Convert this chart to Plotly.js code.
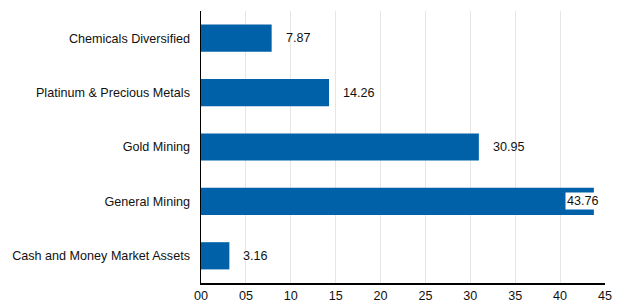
<!DOCTYPE html>
<html><head><meta charset="utf-8">
<script src="https://cdn.plot.ly/plotly-3.0.1.min.js"></script>
<style>html,body{margin:0;padding:0;background:#fff;}#chart{width:618px;height:303px;}</style>
</head><body><div id="chart"></div>
<script>
const categories = ["Chemicals Diversified","Platinum & Precious Metals","Gold Mining","General Mining","Cash and Money Market Assets"];
const values = [7.87, 14.26, 30.95, 43.76, 3.16];
const labels = ["7.87","14.26","30.95","43.76","3.16"];
const tickVals = [0,5,10,15,20,25,30,35,40,45];
const tickText = ["00","05","10","15","20","25","30","35","40","45"];

const FS = 12.6;
const annotations = categories.map((c,i)=>{
  const inside = values[i] > 40;
  return {
    x: values[i], y: c, xref:'x', yref:'y', text: labels[i], showarrow:false,
    xanchor: inside ? 'right' : 'left', xshift: inside ? 7 : 12,
    bgcolor: inside ? '#ffffff' : 'rgba(0,0,0,0)', borderpad: 1,
    font:{family:'Liberation Sans, Arial, sans-serif', size:FS, color:'#111'}
  };
});

Plotly.newPlot('chart', [{
  type:'bar', orientation:'h', x: values, y: categories,
  marker:{color:'#0060a8'}, hoverinfo:'none'
}], {
  width:618, height:303,
  margin:{l:201, r:13, t:11, b:20},
  paper_bgcolor:'#fff', plot_bgcolor:'#fff',
  bargap:0.5,
  showlegend:false,
  font:{family:'Liberation Sans, Arial, sans-serif', size:FS, color:'#111'},
  xaxis:{range:[0,45], tickvals:tickVals, ticktext:tickText, showgrid:true, gridcolor:'#e6e6e6', gridwidth:1,
    zeroline:false, showline:true, linecolor:'#000', linewidth:1.5, ticks:'', ticklen:0, fixedrange:true,
    tickfont:{size:FS, color:'#111'}},
  yaxis:{autorange:'reversed', categoryorder:'array', categoryarray:categories, showline:true, linecolor:'#000', linewidth:1.5,
    ticks:'', ticklabelstandoff:7, showgrid:false, zeroline:false, tickfont:{size:FS, color:'#111'}},
  annotations: annotations
}, {staticPlot:true});
</script></body></html>
